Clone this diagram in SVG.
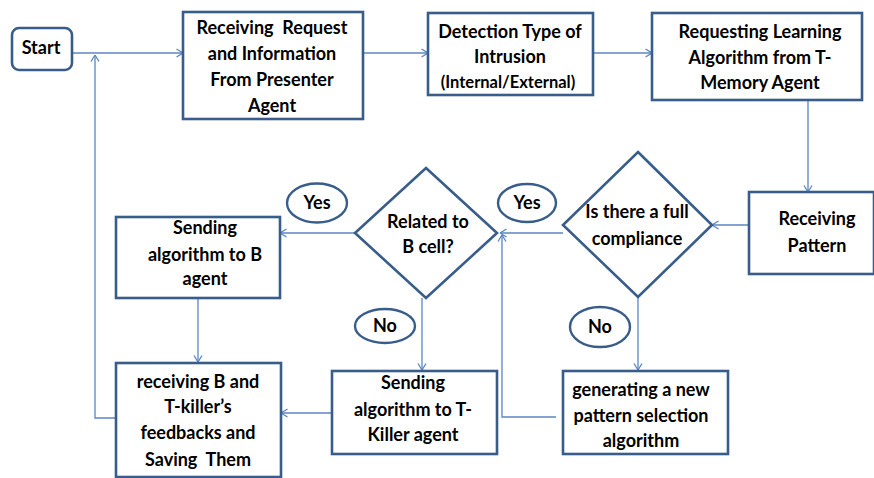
<svg xmlns="http://www.w3.org/2000/svg" width="874" height="478" viewBox="0 0 874 478">
  <style>
    .box { fill: #ffffff; stroke: #385D8A; stroke-width: 2.6; }
    .lbl { fill: #ffffff; stroke: #385D8A; stroke-width: 2.4; }
    .link { fill: none; stroke: #5B86C5; stroke-width: 1.3; }
    text { font-family: Lato, "Liberation Sans", sans-serif; font-weight: bold; font-size: 18px; fill: #000000; text-anchor: middle; white-space: pre; }
    .small { font-size: 16.5px; }
  </style>
  <defs>
    <marker id="arrow" viewBox="0 0 10 10" refX="9.5" refY="5" markerWidth="10" markerHeight="10" markerUnits="userSpaceOnUse" orient="auto">
      <path d="M3,1 L9.5,5 L3,9" fill="none" stroke="#5B86C5" stroke-width="1.3"/>
    </marker>
  </defs>
  <rect width="874" height="478" fill="#ffffff"/>

  <!-- connectors -->
  <g id="connectors" class="link" marker-end="url(#arrow)">
    <path d="M72,53 L183,53"/>
    <path d="M363,53 L428,53"/>
    <path d="M593,53 L652,53"/>
    <path d="M808,100 L808,192"/>
    <path d="M749,225 L712,225"/>
    <path d="M563,233 L500,233"/>
    <path d="M556,417 L502,417 L502,235"/>
    <path d="M355,233 L280,233"/>
    <path d="M198,298 L198,362"/>
    <path d="M422,298 L422,370"/>
    <path d="M638,297 L638,370"/>
    <path d="M332,413 L281,413"/>
    <path d="M116,418 L95,418 L95,55"/>
  </g>

  <g id="start">
    <rect class="box" x="12" y="28" width="60" height="42" rx="7"/>
    <text x="41" y="54">Start</text>
  </g>

  <g id="receive-request">
    <rect class="box" x="183" y="12" width="180" height="107"/>
    <text x="272" y="34" xml:space="preserve">Receiving  Request</text>
    <text x="272" y="60">and Information</text>
    <text x="272" y="86">From Presenter</text>
    <text x="272" y="112">Agent</text>
  </g>

  <g id="detect-type">
    <rect class="box" x="428" y="13" width="165" height="82"/>
    <text x="510" y="38">Detection Type of</text>
    <text x="510" y="63">Intrusion</text>
    <text class="small" x="508" y="88">(Internal/External)</text>
  </g>

  <g id="request-algorithm">
    <rect class="box" x="652" y="13" width="210" height="87"/>
    <text x="760" y="38">Requesting Learning</text>
    <text x="760" y="64">Algorithm from T-</text>
    <text x="760" y="89">Memory Agent</text>
  </g>

  <g id="receive-pattern">
    <rect class="box" x="749" y="192" width="125" height="82"/>
    <text x="817" y="225">Receiving</text>
    <text x="817" y="252">Pattern</text>
  </g>

  <g id="full-compliance">
    <polygon class="box" points="638,152 712,225 638,297 563,225"/>
    <text x="637" y="218">Is there a full</text>
    <text x="637" y="245">compliance</text>
  </g>

  <g id="related-b-cell">
    <polygon class="box" points="426,168 497,233 426,298 355,233"/>
    <text x="428" y="228">Related to</text>
    <text x="428" y="253">B cell?</text>
  </g>

  <g id="yes-compliance">
    <ellipse class="lbl" cx="527" cy="203" rx="29" ry="19"/>
    <text x="527" y="209">Yes</text>
  </g>

  <g id="yes-b-cell">
    <ellipse class="lbl" cx="317" cy="203" rx="30" ry="19.5"/>
    <text x="317" y="209">Yes</text>
  </g>

  <g id="no-b-cell">
    <ellipse class="lbl" cx="385" cy="326" rx="30" ry="17"/>
    <text x="385" y="332">No</text>
  </g>

  <g id="no-compliance">
    <ellipse class="lbl" cx="600" cy="327" rx="30" ry="20"/>
    <text x="600" y="333">No</text>
  </g>

  <g id="send-b">
    <rect class="box" x="116" y="217" width="164" height="81"/>
    <text x="205" y="234">Sending</text>
    <text x="205" y="261">algorithm to B</text>
    <text x="205" y="285">agent</text>
  </g>

  <g id="receive-feedback">
    <rect class="box" x="116" y="363" width="165" height="114"/>
    <text x="198" y="388">receiving B and</text>
    <text x="198" y="413">T-killer’s</text>
    <text x="198" y="439">feedbacks and</text>
    <text x="198" y="466" xml:space="preserve">Saving  Them</text>
  </g>

  <g id="send-t-killer">
    <rect class="box" x="332" y="371" width="165" height="83"/>
    <text x="413" y="389">Sending</text>
    <text x="413" y="416">algorithm to T-</text>
    <text x="413" y="441">Killer agent</text>
  </g>

  <g id="new-pattern">
    <rect class="box" x="563" y="371" width="165" height="83"/>
    <text x="641" y="396">generating a new</text>
    <text x="641" y="422">pattern selection</text>
    <text x="641" y="447">algorithm</text>
  </g>
</svg>
